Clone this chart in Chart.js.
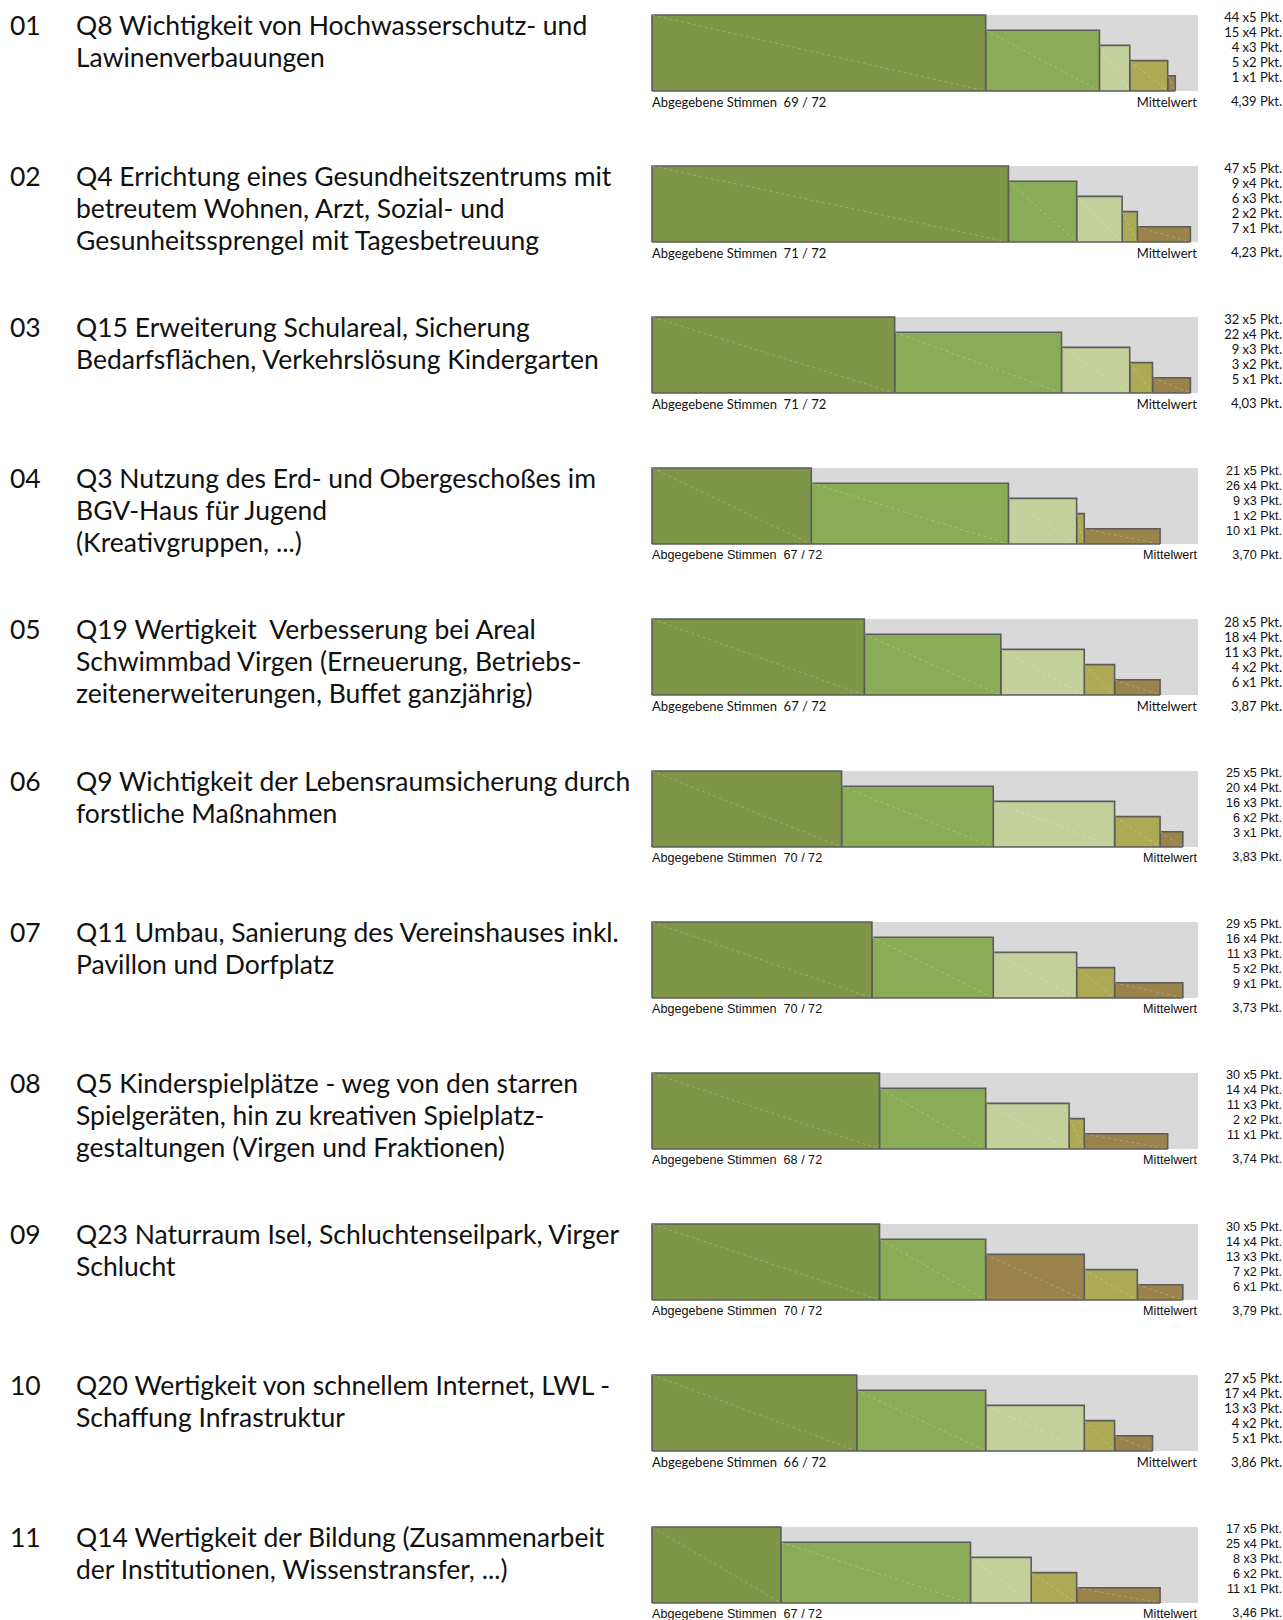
<!DOCTYPE html>
<html>
<head>
<meta charset="utf-8">
<script src="https://cdn.jsdelivr.net/npm/chart.js@4/dist/chart.umd.min.js"></script>
<style>
  html, body { margin: 0; padding: 0; background: #fff; }
  body { width: 1283px; height: 1620px; position: relative; overflow: hidden; color: #111; }
  .num, .q { position: absolute; font-family: Lato, "Noto Sans", sans-serif; font-size: 26.5px; line-height: 32px; white-space: nowrap; }
  .small { position: absolute; white-space: nowrap; font-size: 13px; line-height: 16px; }
  .cal { font-family: Lato, sans-serif; font-size: 13px; }
  .ari { font-family: "Liberation Sans", Arial, sans-serif; font-size: 12.6px; }
  .cnt { position: absolute; right: 1px; text-align: right; white-space: nowrap; line-height: 15px; }
  canvas { position: absolute; }
</style>
</head>
<body>
<script>
// ---- data ----
const itemNumbers = ["01","02","03","04","05","06","07","08","09","10","11"];
const questions = [
  ["Q8 Wichtigkeit von Hochwasserschutz- und", "Lawinenverbauungen"],
  ["Q4 Errichtung eines Gesundheitszentrums mit", "betreutem Wohnen, Arzt, Sozial- und", "Gesunheitssprengel mit Tagesbetreuung"],
  ["Q15 Erweiterung Schulareal, Sicherung", "Bedarfsflächen, Verkehrslösung Kindergarten"],
  ["Q3 Nutzung des Erd- und Obergeschoßes im", "BGV-Haus für Jugend", "(Kreativgruppen, ...)"],
  ["Q19 Wertigkeit  Verbesserung bei Areal", "Schwimmbad Virgen (Erneuerung, Betriebs-", "zeitenerweiterungen, Buffet ganzjährig)"],
  ["Q9 Wichtigkeit der Lebensraumsicherung durch", "forstliche Maßnahmen"],
  ["Q11 Umbau, Sanierung des Vereinshauses inkl.", "Pavillon und Dorfplatz"],
  ["Q5 Kinderspielplätze - weg von den starren", "Spielgeräten, hin zu kreativen Spielplatz-", "gestaltungen (Virgen und Fraktionen)"],
  ["Q23 Naturraum Isel, Schluchtenseilpark, Virger", "Schlucht"],
  ["Q20 Wertigkeit von schnellem Internet, LWL -", "Schaffung Infrastruktur"],
  ["Q14 Wertigkeit der Bildung (Zusammenarbeit", "der Institutionen, Wissenstransfer, ...)"]
];
const votes5pt = [44, 47, 32, 21, 28, 25, 29, 30, 30, 27, 17];
const votes4pt = [15,  9, 22, 26, 18, 20, 16, 14, 14, 17, 25];
const votes3pt = [ 4,  6,  9,  9, 11, 16, 11, 11, 13, 13,  8];
const votes2pt = [ 5,  2,  3,  1,  4,  6,  5,  2,  7,  4,  6];
const votes1pt = [ 1,  7,  5, 10,  6,  3,  9, 11,  6,  5, 11];
const votesCast = [69, 71, 71, 67, 67, 70, 70, 68, 70, 66, 67];
const totalVoters = 72;
const meanValues = [4.39, 4.23, 4.03, 3.70, 3.87, 3.83, 3.73, 3.74, 3.79, 3.86, 3.46];
const pointLevels = [5, 4, 3, 2, 1];

// ---- styles ----
const levelColors = ["#7f9547", "#8bac56", "#c3d09b", "#adaa56", "#9b844c"];
const colorOverrides = { 8: { 2: "#9b844c" } };
const rowFontClass = ["cal","cal","cal","ari","cal","ari","ari","ari","ari","cal","ari"];
const ROW0 = 14.5, ROWSTEP = 151.2, PLOT_LEFT = 652, PLOT_W = 546, PLOT_H = 76, PAD = 3;

const levelVotes = [votes5pt, votes4pt, votes3pt, votes2pt, votes1pt];
const fmt = v => v.toFixed(2).replace(".", ",");

function el(tag, cls, text, css) {
  const e = document.createElement(tag);
  if (cls) e.className = cls;
  if (text !== undefined) e.textContent = text;
  Object.assign(e.style, css || {});
  document.body.appendChild(e);
  return e;
}

itemNumbers.forEach((num, r) => {
  const top = ROW0 + r * ROWSTEP;
  el("div", "num", num, { left: "10px", top: (top - 6) + "px" });
  const q = el("div", "q", undefined, { left: "76px", top: (top - 6) + "px" });
  q.innerHTML = questions[r].map(s => s.replace(/ {2}/g, " &nbsp;")).join("<br>");

  const fc = rowFontClass[r];
  el("div", "small " + fc, "Abgegebene Stimmen\u00a0\u00a0" + votesCast[r] + " / " + totalVoters,
     { left: PLOT_LEFT + "px", top: (top + 79) + "px" });
  el("div", "small " + fc, "Mittelwert", { right: (1283 - 1197) + "px", top: (top + 79) + "px" });
  pointLevels.forEach((p, k) => {
    el("div", "cnt " + fc, levelVotes[k][r] + " x" + p + " Pkt.", { top: (top - 4.5 + k * 15) + "px" });
  });
  el("div", "cnt " + fc, fmt(meanValues[r]) + " Pkt.", { top: (top + 79.5) + "px" });

  // chart
  const cv = document.createElement("canvas");
  cv.width = PLOT_W + 2 * PAD; cv.height = PLOT_H + 2 * PAD;
  cv.style.left = (PLOT_LEFT - PAD) + "px";
  cv.style.top = (top - PAD) + "px";
  document.body.appendChild(cv);

  const datasets = [];
  // background (all voters x max points)
  datasets.push({
    data: [{x: 0, y: pointLevels[0]}, {x: totalVoters, y: pointLevels[0]}],
    fill: "origin", backgroundColor: "#d9d9d9", borderWidth: 0, pointRadius: 0, order: 10
  });
  let cum = 0;
  pointLevels.forEach((p, k) => {
    const n = levelVotes[k][r];
    const x0 = cum, x1 = cum + n;
    cum = x1;
    const col = (colorOverrides[r] && colorOverrides[r][k]) || levelColors[k];
    datasets.push({
      data: [{x: x0, y: 0}, {x: x0, y: p}, {x: x1, y: p}, {x: x1, y: 0}],
      fill: "origin", backgroundColor: col, borderColor: "#5c5c5c", borderWidth: 1.6,
      pointRadius: 0, order: 5
    });
    datasets.push({
      data: [{x: x0, y: p}, {x: x1, y: 0}],
      fill: false, borderColor: "rgba(255,255,255,0.3)", borderWidth: 0.8, borderDash: [3, 3],
      pointRadius: 0, order: 1
    });
  });
  // bottom baseline
  datasets.push({
    data: [{x: 0, y: 0}, {x: cum, y: 0}],
    fill: false, borderColor: "#5c5c5c", borderWidth: 1.6, pointRadius: 0, order: 0
  });

  new Chart(cv, {
    type: "scatter",
    data: { datasets: datasets.map(d => Object.assign({ showLine: true, tension: 0, clip: false }, d)) },
    options: {
      responsive: false, animation: false, devicePixelRatio: 1,
      layout: { padding: PAD },
      plugins: { legend: { display: false }, tooltip: { enabled: false } },
      events: [],
      scales: {
        x: { type: "linear", min: 0, max: totalVoters, display: false },
        y: { type: "linear", min: 0, max: pointLevels[0], display: false }
      }
    }
  });
});
</script>
</body>
</html>
